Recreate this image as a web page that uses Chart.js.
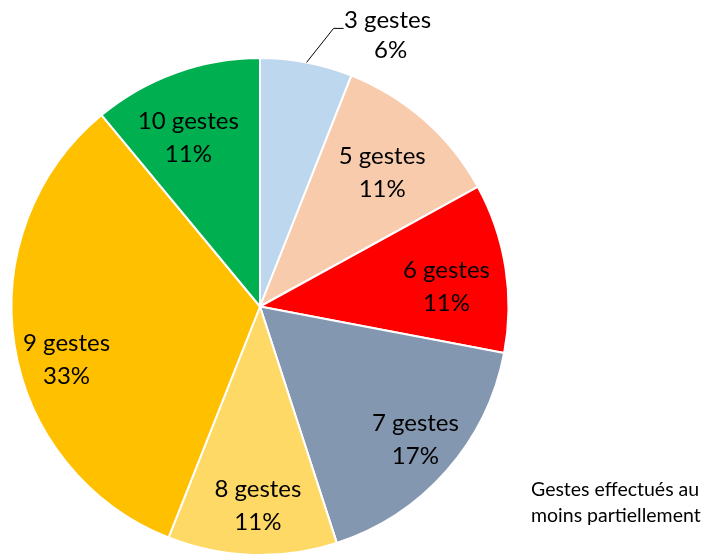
<!DOCTYPE html>
<html>
<head>
<meta charset="utf-8">
<script src="https://cdn.jsdelivr.net/npm/chart.js@4.4.1/dist/chart.umd.min.js"></script>
<style>
  html, body { margin: 0; padding: 0; background: #fff; }
  #wrap { position: relative; width: 704px; height: 556px; }
</style>
</head>
<body>
<div id="wrap"><canvas id="gestesChart" width="704" height="556"></canvas></div>
<script>
// données du graphique
var categories = ['3 gestes', '5 gestes', '6 gestes', '7 gestes', '8 gestes', '9 gestes', '10 gestes'];
var pourcentages = [6, 11, 11, 17, 11, 33, 11];
var couleurs = ['#BDD7EE', '#F8CBAD', '#FF0000', '#8497B0', '#FFD966', '#FFC000', '#00B050'];
var legende = ['Gestes effectués au', 'moins partiellement'];

var labelFont = '24px Lato, "Open Sans", sans-serif';
// petits décalages des étiquettes (placement "au mieux" d'Excel)
var decalages = [[0, 0], [-6, 4], [-5, 3], [10, -3], [4, -2], [-2, 15], [-6, 6]];

// étiquettes dans les parts (et une à l'extérieur pour la petite part)
var pieLabels = {
    id: 'pieLabels',
    afterDatasetsDraw: function(chart) {
        var ctx = chart.ctx;
        var meta = chart.getDatasetMeta(0);
        ctx.save();
        ctx.font = labelFont;
        ctx.fillStyle = '#000';
        ctx.textAlign = 'center';
        ctx.textBaseline = 'middle';
        meta.data.forEach(function(arc, i) {
            var p = arc.getProps(['x', 'y', 'startAngle', 'endAngle', 'outerRadius'], true);
            var mid = (p.startAngle + p.endAngle) / 2;
            var txt1 = categories[i];
            var txt2 = pourcentages[i] + '%';
            if (i === 0) {
                // petite part : étiquette extérieure avec trait
                var sx = p.x + Math.cos(mid) * p.outerRadius;
                var sy = p.y + Math.sin(mid) * p.outerRadius;
                var ex = sx + 27, ey = sy - 34;
                ctx.strokeStyle = '#000';
                ctx.lineWidth = 1;
                ctx.beginPath();
                ctx.moveTo(sx, sy);
                ctx.lineTo(ex, ey);
                ctx.lineTo(ex + 10, ey);
                ctx.stroke();
                var cx = ex + 54;
                ctx.fillText(txt1, cx, ey - 8);
                ctx.fillText(txt2, cx + 3, ey + 22);
                return;
            }
            var d = p.outerRadius * 0.78;
            var lx = p.x + Math.cos(mid) * d + decalages[i][0];
            var ly = p.y + Math.sin(mid) * d + 8 + decalages[i][1];
            ctx.fillText(txt1, lx, ly - 16.5);
            ctx.fillText(txt2, lx, ly + 16.5);
        });
        // texte en bas à droite
        ctx.font = '19.5px Lato, "Open Sans", sans-serif';
        ctx.textAlign = 'left';
        ctx.fillText(legende[0], 531, 490);
        ctx.fillText(legende[1], 531, 516);
        ctx.restore();
    }
};

new Chart(document.getElementById('gestesChart'), {
    type: 'pie',
    data: {
        labels: categories,
        datasets: [{
            data: pourcentages,
            backgroundColor: couleurs,
            borderColor: '#FFFFFF',
            borderWidth: 2
        }]
    },
    options: {
        responsive: false,
        animation: false,
        layout: { padding: { left: 10, right: 194, top: 57, bottom: -1 } },
        plugins: {
            legend: { display: false },
            tooltip: { enabled: false }
        }
    },
    plugins: [pieLabels]
});
</script>
</body>
</html>
